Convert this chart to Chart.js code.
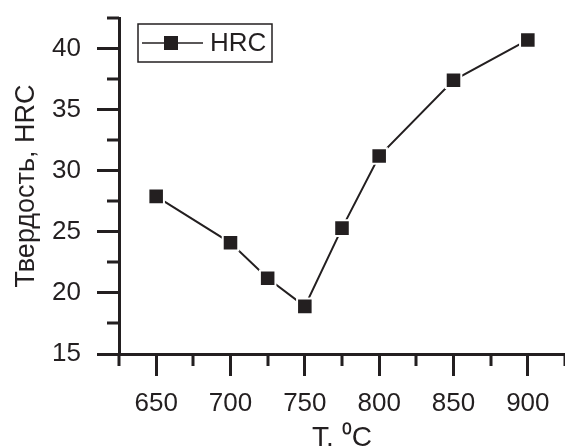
<!DOCTYPE html>
<html>
<head>
<meta charset="utf-8">
<script src="https://cdn.jsdelivr.net/npm/chart.js@4.4.0/dist/chart.umd.min.js"></script>
<style>
body { margin: 0; background: #fff; }
canvas { display: block; }
</style>
</head>
<body>
<canvas id="durete" width="565" height="446"></canvas>
<script>
// données
const temperatures = [650, 700, 725, 750, 775, 800, 850, 900];
const hrc = [27.9, 24.1, 21.2, 18.9, 25.3, 31.2, 37.4, 40.7];
const nomSerie = 'HRC';
const titreX = 'T. \u2070C';
const titreY = 'Твердость, HRC';

const couleur = '#231f20';
const police = 'Arial, "Liberation Sans", sans-serif';

// petites graduations (plus courtes que les grandes)
const petitesGraduations = {
    id: 'petitesGraduations',
    afterDraw(chart) {
        const ctx = chart.ctx;
        const sx = chart.scales.x, sy = chart.scales.y;
        ctx.save();
        ctx.strokeStyle = couleur;
        ctx.lineWidth = 3;
        ctx.beginPath();
        sx.ticks.forEach(t => {
            if (t.value % 50 !== 0) {
                const px = Math.round(sx.getPixelForValue(t.value));
                ctx.moveTo(px, sx.top);
                ctx.lineTo(px, sx.top + 12);
            }
        });
        sy.ticks.forEach(t => {
            if (t.value % 5 !== 0) {
                const py = Math.round(sy.getPixelForValue(t.value));
                ctx.moveTo(sy.right, py);
                ctx.lineTo(sy.right - 12, py);
            }
        });
        ctx.stroke();
        ctx.restore();
    }
};

// légende encadrée dans le coin haut gauche
const legendeBoite = {
    id: 'legendeBoite',
    afterDraw(chart) {
        const ctx = chart.ctx;
        const a = chart.chartArea;
        const x0 = a.left + 19, y0 = a.top + 6;
        const w = 134, h = 38;
        const ym = y0 + h / 2;
        ctx.save();
        ctx.strokeStyle = couleur;
        ctx.lineWidth = 1.5;
        ctx.strokeRect(x0, y0, w, h);
        ctx.beginPath();
        ctx.moveTo(x0 + 4, ym);
        ctx.lineTo(x0 + 65, ym);
        ctx.stroke();
        ctx.fillStyle = couleur;
        ctx.fillRect(x0 + 26, ym - 7, 14, 14);
        ctx.font = '26px ' + police;
        ctx.textBaseline = 'middle';
        ctx.fillText(nomSerie, x0 + 72, ym + 1);
        ctx.restore();
    }
};

const points = temperatures.map((t, i) => ({ x: t, y: hrc[i] }));

const graduation = (pas) => ({
    drawOnChartArea: false,
    drawTicks: true,
    tickLength: 22,
    tickWidth: 3,
    tickColor: c => (c.tick && c.tick.value % pas === 0) ? couleur : 'rgba(0,0,0,0)'
});

const ctx = document.getElementById('durete').getContext('2d');
const graphe = new Chart(ctx, {
    type: 'scatter',
    data: {
        datasets: [{
            label: nomSerie,
            data: points,
            showLine: true,
            borderColor: couleur,
            borderWidth: 2,
            pointStyle: 'rect',
            pointRadius: 11,
            pointHoverRadius: 11,
            pointBackgroundColor: couleur,
            pointBorderColor: '#ffffff',
            pointBorderWidth: 2
        }]
    },
    options: {
        responsive: false,
        animation: false,
        devicePixelRatio: 1,
        layout: { autoPadding: false, padding: { top: 18, right: 0, left: 0, bottom: 0 } },
        plugins: {
            legend: { display: false },
            tooltip: { enabled: false }
        },
        scales: {
            x: {
                type: 'linear',
                position: 'bottom',
                min: 625,
                max: 925,
                afterFit: s => { s.height = 92; s.paddingLeft = 0; s.paddingRight = 0; },
                grid: graduation(50),
                border: { display: true, color: couleur, width: 3 },
                ticks: {
                    stepSize: 25,
                    autoSkip: false,
                    maxRotation: 0,
                    padding: 12,
                    color: couleur,
                    font: { family: police, size: 26 },
                    callback: v => (v % 50 === 0 ? v : '')
                },
                title: {
                    display: true,
                    text: titreX,
                    color: couleur,
                    font: { family: police, size: 28, lineHeight: 1 },
                    padding: { top: 0, bottom: -6 }
                }
            },
            y: {
                type: 'linear',
                min: 15,
                max: 42.5,
                afterFit: s => { s.width = 119; s.paddingTop = 0; s.paddingBottom = 0; },
                grid: graduation(5),
                border: { display: true, color: couleur, width: 3 },
                ticks: {
                    stepSize: 2.5,
                    autoSkip: false,
                    padding: 16,
                    color: couleur,
                    font: { family: police, size: 26 },
                    callback: v => (v % 5 === 0 ? v : '')
                },
                title: {
                    display: true,
                    text: titreY,
                    color: couleur,
                    font: { family: police, size: 27, lineHeight: 1 },
                    padding: { top: 13, bottom: 0 }
                }
            }
        }
    },
    plugins: [petitesGraduations, legendeBoite]
});
</script>
</body>
</html>
